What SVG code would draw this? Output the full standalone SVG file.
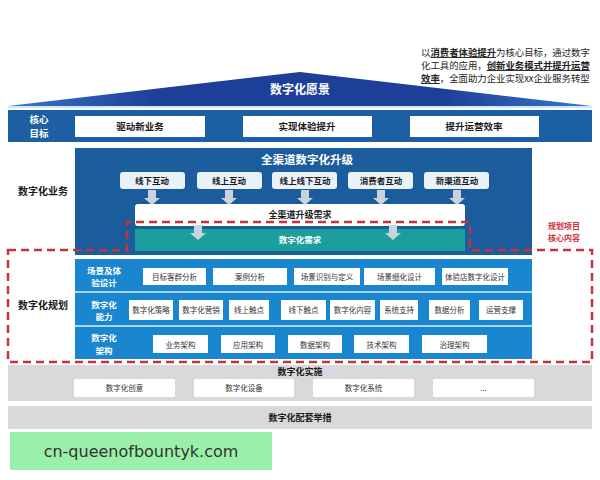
<svg xmlns="http://www.w3.org/2000/svg" width="600" height="480" viewBox="0 0 600 480">
<defs>
<linearGradient id="tri" x1="0" y1="0" x2="1" y2="0">
<stop offset="0" stop-color="#3a78c8"/>
<stop offset="0.25" stop-color="#1e3f98"/>
<stop offset="0.75" stop-color="#1e3f98"/>
<stop offset="1" stop-color="#3a78c8"/>
</linearGradient>
<path id="arr" d="M-4,0 H4 V8 H8 L0,15 L-8,8 H-4 Z"/>
</defs>
<style>
text{font-family:"Noto Sans CJK SC","Liberation Sans",sans-serif;text-anchor:middle;}
.wb{fill:#ffffff;font-weight:bold;}
.bk{fill:#1a1a1a;font-weight:bold;}
.goal{fill:#ffffff;}
.ibox{fill:#e9f1f9;}
.pbox{fill:#ffffff;}
.pt{fill:#333333;font-size:7.5px;}
.ar{fill:#c9d3dd;}
.red{fill:#c8323a;font-weight:bold;font-size:8px;}
.rl{fill:#ffffff;font-weight:bold;font-size:8.5px;}
</style>
<rect width="600" height="480" fill="#ffffff"/>

<g id="vision">
<polygon points="8,106 300,72 592,106" fill="url(#tri)"/>
<rect x="8" y="106" width="584" height="2" fill="#cfe8f5"/>
<text x="300" y="94" class="wb" font-size="12">数字化愿景</text>
</g>

<g id="note" font-size="9.4" fill="#222222">
<text x="421" y="56" style="text-anchor:start">以<tspan font-weight="bold" text-decoration="underline">消费者体验提升</tspan>为核心目标，通过数字</text>
<text x="421" y="69" style="text-anchor:start">化工具的应用，<tspan font-weight="bold" text-decoration="underline">创新业务模式并提升运营</tspan></text>
<text x="421" y="82" style="text-anchor:start"><tspan font-weight="bold" text-decoration="underline">效率</tspan>，全面助力企业实现xx企业服务转型</text>
</g>

<g id="core-goals">
<rect x="8" y="110" width="584" height="32" fill="#1c5fa3"/>
<text x="39" y="123" class="wb" font-size="9.5">核心</text>
<text x="39" y="137" class="wb" font-size="9.5">目标</text>
<rect x="75" y="116" width="130" height="21" class="goal"/>
<text x="140" y="130" class="bk" font-size="9.5">驱动新业务</text>
<rect x="243" y="116" width="129" height="21" class="goal"/>
<text x="307" y="130" class="bk" font-size="9.5">实现体验提升</text>
<rect x="410" y="116" width="129" height="21" class="goal"/>
<text x="474" y="130" class="bk" font-size="9.5">提升运营效率</text>
</g>

<g id="digital-business">
<text x="43" y="195" class="bk" font-size="10">数字化业务</text>
<rect x="75" y="148" width="457" height="107" fill="#1b5c9c"/>
<text x="307" y="164" class="wb" font-size="11.5">全渠道数字化升级</text>
<rect x="120" y="172" width="65" height="17" rx="3" class="ibox"/>
<text x="152" y="184" class="bk" font-size="8.5">线下互动</text>
<rect x="197" y="172" width="65" height="17" rx="3" class="ibox"/>
<text x="229" y="184" class="bk" font-size="8.5">线上互动</text>
<rect x="272" y="172" width="65" height="17" rx="3" class="ibox"/>
<text x="305" y="184" class="bk" font-size="8.5">线上线下互动</text>
<rect x="348" y="172" width="65" height="17" rx="3" class="ibox"/>
<text x="381" y="184" class="bk" font-size="8.5">消费者互动</text>
<rect x="424" y="172" width="65" height="17" rx="3" class="ibox"/>
<text x="457" y="184" class="bk" font-size="8.5">新渠道互动</text>
<rect x="135" y="204" width="330" height="22" rx="3" fill="#ffffff"/>
<text x="300" y="218" class="bk" font-size="9">全渠道升级需求</text>
<rect x="135" y="229" width="330" height="22" fill="#1b9e9c"/>
<text x="300" y="243" class="wb" font-size="8.5">数字化需求</text>
</g>

<g id="connectors">
<use href="#arr" x="152" y="190" class="ar"/>
<use href="#arr" x="229" y="190" class="ar"/>
<use href="#arr" x="305" y="190" class="ar"/>
<use href="#arr" x="381" y="190" class="ar"/>
<use href="#arr" x="457" y="190" class="ar"/>
<use href="#arr" x="198" y="225" class="ar"/>
<use href="#arr" x="393" y="225" class="ar"/>
</g>

<g id="digital-planning">
<text x="43" y="309" class="bk" font-size="10">数字化规划</text>
<rect x="75" y="259" width="457" height="100" fill="#1a86cf"/>
<rect x="75" y="291" width="457" height="2" fill="#a9d6f2"/>
<rect x="75" y="325" width="457" height="2" fill="#a9d6f2"/>
<text x="104" y="273.5" class="rl">场景及体</text>
<text x="104" y="286" class="rl">验设计</text>
<text x="104" y="307.5" class="rl">数字化</text>
<text x="104" y="320" class="rl">能力</text>
<text x="104" y="341" class="rl">数字化</text>
<text x="104" y="353.5" class="rl">架构</text>

<rect x="143" y="268" width="63" height="17" class="pbox"/><text x="174.5" y="279.5" class="pt">目标客群分析</text>
<rect x="213" y="268" width="74" height="17" class="pbox"/><text x="250" y="279.5" class="pt">案例分析</text>
<rect x="294" y="268" width="66" height="17" class="pbox"/><text x="327" y="279.5" class="pt">场景识别与定义</text>
<rect x="364" y="268" width="71" height="17" class="pbox"/><text x="399.5" y="279.5" class="pt">场景细化设计</text>
<rect x="442" y="268" width="66" height="17" class="pbox"/><text x="475" y="279.5" class="pt">体验店数字化设计</text>

<rect x="129" y="300" width="44" height="20" class="pbox"/><text x="151" y="313" class="pt">数字化策略</text>
<rect x="179" y="300" width="44" height="20" class="pbox"/><text x="201" y="313" class="pt">数字化营销</text>
<rect x="229" y="300" width="40" height="20" class="pbox"/><text x="249" y="313" class="pt">线上触点</text>
<rect x="281" y="300" width="45" height="20" class="pbox"/><text x="303.5" y="313" class="pt">线下触点</text>
<rect x="330" y="300" width="45" height="20" class="pbox"/><text x="352.5" y="313" class="pt">数字化内容</text>
<rect x="380" y="300" width="38" height="20" class="pbox"/><text x="399" y="313" class="pt">系统支持</text>
<rect x="429" y="300" width="41" height="20" class="pbox"/><text x="449.5" y="313" class="pt">数据分析</text>
<rect x="479" y="300" width="44" height="20" class="pbox"/><text x="501" y="313" class="pt">运营支撑</text>

<rect x="153" y="335" width="55" height="18" class="pbox"/><text x="180.5" y="348" class="pt" font-size="9">业务架构</text>
<rect x="221" y="335" width="54" height="18" class="pbox"/><text x="248" y="347.5" class="pt">应用架构</text>
<rect x="288" y="335" width="54" height="18" class="pbox"/><text x="315" y="347.5" class="pt">数据架构</text>
<rect x="354" y="335" width="55" height="18" class="pbox"/><text x="381.5" y="347.5" class="pt">技术架构</text>
<rect x="422" y="335" width="65" height="18" class="pbox"/><text x="454.5" y="347.5" class="pt">治理架构</text>
</g>

<g id="core-scope">
<polygon points="8,250 127,250 127,222 470,222 470,250 592,250 592,362 8,362" fill="none" stroke="#c8323a" stroke-width="2.5" stroke-dasharray="8,5"/>
<text x="564" y="229" class="red">规划项目</text>
<text x="564" y="241" class="red">核心内容</text>
</g>

<g id="implementation">
<rect x="8" y="365" width="584" height="36" fill="#d9d9db"/>
<text x="300" y="375" class="bk" font-size="9">数字化实施</text>
<rect x="74" y="379" width="101" height="18" fill="#ffffff"/><text x="124.5" y="391" class="pt">数字化创意</text>
<rect x="194" y="379" width="100" height="18" fill="#ffffff"/><text x="244" y="391" class="pt">数字化设备</text>
<rect x="313" y="379" width="101" height="18" fill="#ffffff"/><text x="363.5" y="391" class="pt">数字化系统</text>
<rect x="433" y="379" width="101" height="18" fill="#ffffff"/><text x="483.5" y="391" class="pt">...</text>
</g>

<g id="supporting">
<rect x="8" y="406" width="584" height="23" fill="#d9d9db"/>
<text x="300" y="421" class="bk" font-size="9">数字化配套举措</text>
</g>

<g id="watermark">
<rect x="10" y="432" width="262" height="38" fill="#9af0a9"/>
<text x="141" y="457" font-size="16" fill="#333333" style="font-family:'DejaVu Sans',sans-serif">cn-queenofbountyk.com</text>
</g>
</svg>
